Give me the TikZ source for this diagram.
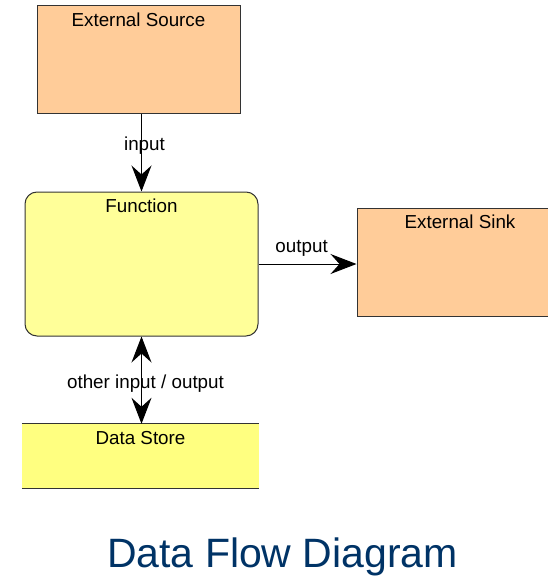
\documentclass[tikz,border=0pt]{standalone}
\usepackage{fontspec}
\setmainfont{Liberation Sans}
\usetikzlibrary{arrows.meta}
\definecolor{dfdPeach}{HTML}{FFCC99}
\definecolor{dfdYellow}{HTML}{FFFF99}
\definecolor{dfdStore}{HTML}{FFFF80}
\definecolor{dfdEdge}{HTML}{333333}
\definecolor{dfdTitle}{HTML}{003366}

\begin{document}
\begin{tikzpicture}[
    x=1pt, y=-1pt,
    box/.style={rectangle, draw=dfdEdge, fill=#1, line width=1pt, inner sep=0pt},
    lbl/.style={font=\fontsize{18.8}{22}\selectfont, inner sep=0pt},
    inlbl/.style={lbl, anchor=base, yshift=-21pt},
    arrow/.style={-{Stealth[length=26pt, width=20pt, inset=9pt]}, line width=1pt},
    twoway/.style={{Stealth[length=26pt, width=20pt, inset=9pt]}-{Stealth[length=26pt, width=20pt, inset=9pt]}, line width=1pt},
    heading/.style={font=\fontsize{41}{48}\selectfont, text=dfdTitle, inner sep=0pt, anchor=base}
]
\useasboundingbox (0,0) rectangle (547,578);

% External Source
\node[box=dfdPeach, minimum width=203pt, minimum height=107pt,
      label={[inlbl]north:External Source}] (source) at (138.5,59.5) {};

% Function
\node[box=dfdYellow, rounded corners=12pt, minimum width=233pt, minimum height=144pt,
      label={[inlbl]north:Function}] (function) at (141.5,264) {};

% External Sink (runs past the right edge)
\node[box=dfdPeach, minimum width=240pt, minimum height=108pt,
      label={[inlbl, xshift=-17pt]north:External Sink}] (sink) at (477,262) {};

% Data Store
\node[fill=dfdStore, inner sep=0pt, minimum width=237pt, minimum height=64pt,
      label={[inlbl]north:Data Store}] (store) at (140.5,456) {};
\draw[dfdEdge, line width=1pt] (store.north west) -- (store.north east);
\draw[dfdEdge, line width=1pt] (store.south west) -- (store.south east);

% Flows
\draw[arrow] (function.north |- source.south) -- node[lbl, anchor=base, pos=0.47, xshift=3pt] {input} (function.north);
\draw[arrow] (function.east) -- node[lbl, anchor=base, pos=0.44, yshift=12pt] {output} (function.east -| sink.west);
\draw[twoway] (function.south) -- node[lbl, anchor=base, pos=0.59, xshift=4pt] {other input / output} (function.south |- store.north);

% Title
\node[heading] (title) at (282.5,567) {Data Flow Diagram};

\end{tikzpicture}
\end{document}
